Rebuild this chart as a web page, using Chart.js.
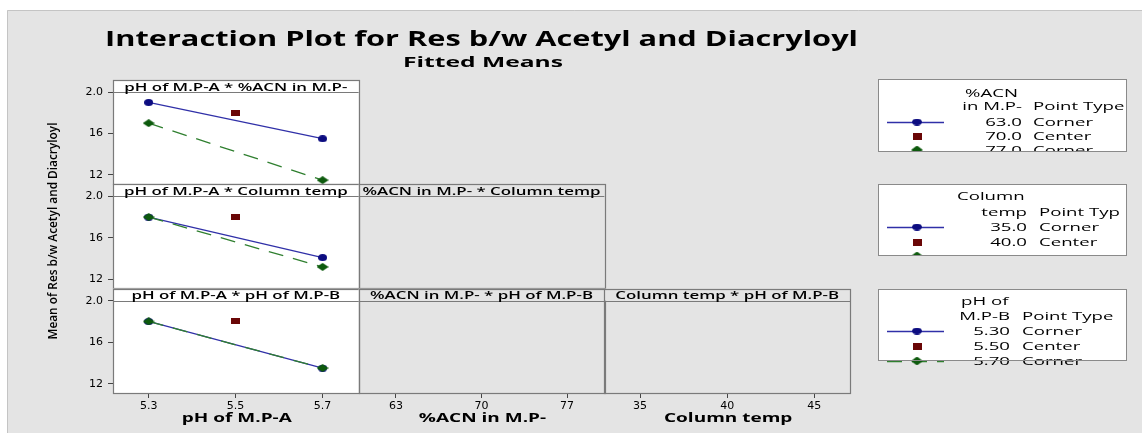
<!DOCTYPE html>
<html>
<head>
<meta charset="utf-8">
<script src="https://cdn.jsdelivr.net/npm/chart.js@4.4.0/dist/chart.umd.min.js"></script>
<style>
  html, body { margin: 0; padding: 0; background: #fff; overflow: hidden; }
  canvas { display: block; }
</style>
</head>
<body>
<canvas id="plot" width="1142" height="433"></canvas>
<script>
// ---- factor levels and tick labels ----
const phA = [5.3, 5.5, 5.7];
const acnLevels = [63, 70, 77];
const tempLevels = [35, 40, 45];
const yTicks = [1.2, 1.6, 2.0];
const yTickLabels = ['12', '16', '2.0'];
const phATickLabels = ['5.3', '5.5', '5.7'];
const acnTickLabels = ['63', '70', '77'];
const tempTickLabels = ['35', '40', '45'];

// ---- fitted means (corner points at pH 5.3 / 5.7, center at 5.5) ----
// pH of M.P-A * %ACN in M.P-
const acnLow = [1.90, 1.55];
const acnCenter = [1.80];
const acnHigh = [1.70, 1.15];
// pH of M.P-A * Column temp
const tempLow = [1.80, 1.41];
const tempCenter = [1.80];
const tempHigh = [1.80, 1.32];
// pH of M.P-A * pH of M.P-B
const phBLow = [1.80, 1.35];
const phBCenter = [1.80];
const phBHigh = [1.80, 1.35];

// ---- texts ----
const chartTitle = 'Interaction Plot for Res b/w Acetyl and Diacryloyl';
const chartSubtitle = 'Fitted Means';
const yAxisTitle = 'Mean of Res b/w Acetyl and Diacryloyl';
const xAxisTitles = ['pH of M.P-A', '%ACN in M.P-', 'Column temp'];
const panelTitles = [
  'pH of M.P-A * %ACN in M.P-',
  'pH of M.P-A * Column temp',
  '%ACN in M.P- * Column temp',
  'pH of M.P-A * pH of M.P-B',
  '%ACN in M.P- * pH of M.P-B',
  'Column temp * pH of M.P-B'
];
const legendHeads = [['%ACN', 'in M.P-'], ['Column', 'temp'], ['pH of', 'M.P-B']];
const legendTypeHeads = ['Point Type', 'Point Typ', 'Point Type'];
const legendLevels = [['63.0', '70.0', '77.0'], ['35.0', '40.0', '45.0'], ['5.30', '5.50', '5.70']];
const pointTypes = ['Corner', 'Center', 'Corner'];

// ---- styling ----
const W = 1142, H = 433;
const BG = '#e4e4e4';
const FRAME = '#c4c4c4';
const PANEL_LINE = '#7a7a7a';
const BLUE_LINE = '#3030a8';
const BLUE_MARK = '#0c0c80';
const RED_MARK = '#6a0606';
const GREEN_LINE = '#2f7f2f';
const GREEN_MARK = '#0d5a0d';
const FONT = '"Open Sans", "DejaVu Sans", sans-serif';
const Y_MIN = 1.11, Y_MAX = 2.116;

function makeMarker(kind, w, h, color) {
  const c = document.createElement('canvas');
  c.width = w; c.height = h;
  const g = c.getContext('2d');
  g.fillStyle = color;
  g.beginPath();
  if (kind === 'circle') g.ellipse(w / 2, h / 2, w / 2, h / 2, 0, 0, Math.PI * 2);
  else if (kind === 'square') g.rect(0, 0, w, h);
  else { g.moveTo(w / 2, 0); g.lineTo(w, h / 2); g.lineTo(w / 2, h); g.lineTo(0, h / 2); g.closePath(); }
  g.fill();
  return c;
}
const circleMark = makeMarker('circle', 9, 7, BLUE_MARK);
const squareMark = makeMarker('square', 9, 6, RED_MARK);
const diamondMark = makeMarker('diamond', 12, 8, GREEN_MARK);
const legendCircle = makeMarker('circle', 10, 7, BLUE_MARK);
const legendSquare = makeMarker('square', 9, 7, RED_MARK);
const legendDiamond = makeMarker('diamond', 12, 9, GREEN_MARK);

const cornerX = [phA[0], phA[2]];
const centerX = [phA[1]];
const pts = (xs, ys) => xs.map((x, i) => ({ x, y: ys[i] }));

const lowStyle = { borderColor: BLUE_LINE, borderWidth: 1.3, pointStyle: circleMark, showLine: true };
const centerStyle = { pointStyle: squareMark, showLine: false };
const highStyle = { borderColor: GREEN_LINE, borderWidth: 1.3, borderDash: [15, 10], pointStyle: diamondMark, showLine: true };

// the first dataset of each panel is painted on top
function panelSets(yId, low, center, high) {
  return [
    Object.assign({ data: pts(cornerX, high), xAxisID: 'xA', yAxisID: yId }, highStyle),
    Object.assign({ data: pts(centerX, center), xAxisID: 'xA', yAxisID: yId }, centerStyle),
    Object.assign({ data: pts(cornerX, low), xAxisID: 'xA', yAxisID: yId }, lowStyle)
  ];
}

const tickFont = { family: '"DejaVu Sans", sans-serif', size: 11 };

function yAxis(weight) {
  return {
    type: 'linear', position: 'left', stack: 'rows', stackWeight: 1, weight,
    min: Y_MIN, max: Y_MAX,
    afterBuildTicks: s => { s.ticks = yTicks.map(v => ({ value: v })); },
    afterFit: s => { s.width = 30; },
    grid: { drawOnChartArea: false, drawTicks: true, tickLength: 5, color: '#444' },
    border: { display: false },
    ticks: { callback: (v, i) => yTickLabels[i], font: tickFont, color: '#000', padding: 5 }
  };
}
function xAxis(weight, levels, labels, min, max) {
  return {
    type: 'linear', position: 'bottom', stack: 'cols', stackWeight: 1, weight,
    min, max,
    afterBuildTicks: s => { s.ticks = levels.map(v => ({ value: v })); },
    afterFit: s => { s.height = 30; },
    grid: { drawOnChartArea: false, drawTicks: true, tickLength: 5, color: '#444' },
    border: { display: false },
    ticks: { callback: (v, i) => labels[i], font: tickFont, color: '#000', padding: 2, maxRotation: 0 }
  };
}

function textFit(ctx, str, x, y, font, opt) {
  ctx.save();
  ctx.font = font;
  const w = ctx.measureText(str).width;
  const sx = opt.width ? opt.width / w : (opt.sx || 1);
  const dw = w * sx;
  let left = x;
  if (opt.align === 'center') left = x - dw / 2;
  else if (opt.align === 'right') left = x - dw;
  ctx.translate(left, y);
  ctx.scale(sx, 1);
  ctx.textAlign = 'left';
  ctx.textBaseline = 'alphabetic';
  ctx.fillStyle = opt.color || '#000';
  ctx.fillText(str, 0, 0);
  ctx.restore();
}
function stretchFor(ctx, font, str, width) {
  ctx.save(); ctx.font = font; const w = ctx.measureText(str).width; ctx.restore();
  return width / w;
}

const CELLS = [[0, 0], [1, 0], [1, 1], [2, 0], [2, 1], [2, 2]];
const ROW_IDS = ['y1', 'y2', 'y3'];
const COL_IDS = ['xA', 'xB', 'xC'];

function cellRect(chart, r, c) {
  const ys = chart.scales[ROW_IDS[r]], xs = chart.scales[COL_IDS[c]];
  return { l: xs.left, r: xs.right, t: ys.top, b: ys.bottom, head: ys.getPixelForValue(2.0) };
}

const decor = {
  id: 'decor',
  beforeDraw(chart) {
    const ctx = chart.ctx;
    ctx.save();
    ctx.fillStyle = '#fff';
    ctx.fillRect(0, 0, W, H);
    ctx.fillStyle = BG;
    ctx.fillRect(7, 10, W - 7, H - 10);
    ctx.strokeStyle = FRAME;
    ctx.lineWidth = 1;
    ctx.beginPath();
    ctx.moveTo(7.5, H); ctx.lineTo(7.5, 10.5); ctx.lineTo(W, 10.5);
    ctx.stroke();
    // white plotting areas of the first column
    ctx.fillStyle = '#fff';
    CELLS.filter(([r, c]) => c === 0).forEach(([r, c]) => {
      const p = cellRect(chart, r, c);
      ctx.fillRect(p.l, p.t, p.r - p.l, p.b - p.t);
    });
    ctx.restore();
  },
  afterDatasetsDraw(chart) {
    const ctx = chart.ctx;
    ctx.save();
    const hFont = '600 11px ' + FONT;
    const hsx = stretchFor(ctx, hFont, panelTitles[0], 223);
    CELLS.forEach(([r, c], i) => {
      const p = cellRect(chart, r, c);
      ctx.fillStyle = c === 0 ? '#fff' : BG;
      ctx.fillRect(p.l, p.t, p.r - p.l, p.head - p.t);
      ctx.strokeStyle = PANEL_LINE;
      ctx.lineWidth = 1.2;
      ctx.strokeRect(Math.round(p.l) + 0.5, Math.round(p.t) + 0.5, Math.round(p.r - p.l), Math.round(p.b - p.t));
      ctx.beginPath();
      ctx.moveTo(p.l, Math.round(p.head) + 0.5);
      ctx.lineTo(p.r, Math.round(p.head) + 0.5);
      ctx.stroke();
      textFit(ctx, panelTitles[i], (p.l + p.r) / 2, p.head - 1.5, hFont, { sx: hsx, align: 'center' });
    });
    ctx.restore();
  },
  afterDraw(chart) {
    const ctx = chart.ctx;
    ctx.save();
    // titles
    textFit(ctx, chartTitle, 481.5, 46, 'bold 21px ' + FONT, { width: 753, align: 'center' });
    textFit(ctx, chartSubtitle, 483, 67, 'bold 15px ' + FONT, { width: 160, align: 'center' });
    // y axis title, squeezed along its length
    ctx.save();
    ctx.translate(57, 231);
    ctx.rotate(-Math.PI / 2);
    textFit(ctx, yAxisTitle, 0, 0, '600 12px ' + FONT, { width: 217, align: 'center' });
    ctx.restore();
    // x axis titles
    const xFont = 'bold 13px ' + FONT;
    const xsx = stretchFor(ctx, xFont, xAxisTitles[0], 110);
    COL_IDS.forEach((id, i) => {
      const s = chart.scales[id];
      textFit(ctx, xAxisTitles[i], (s.left + s.right) / 2 + 1, 422, xFont, { sx: xsx, align: 'center' });
    });
    // legends (third entry runs past the box edge and is cut off)
    const lFont = '500 10.5px ' + FONT;
    const lsx = stretchFor(ctx, lFont, 'Corner', 60);
    const boxes = [
      { t: 79, b: 151, head1: 965, right: 1022, left: 1033, y0: 93, extra: 1, lastLine: false, lastShift: 0 },
      { t: 184, b: 255, head1: 957, right: 1027, left: 1039, y0: 196, extra: 0, lastLine: false, lastShift: 5 },
      { t: 289, b: 360, head1: 961, right: 1010, left: 1022, y0: 301, extra: 5, lastLine: true, lastShift: 0 }
    ];
    const rowsY = [[122, 136, 150], [227, 242, 256], [331, 346, 361]];
    const headY2 = [106, 212, 316];
    const marks = [legendCircle, legendSquare, legendDiamond];
    boxes.forEach((bx, k) => {
      ctx.fillStyle = '#fff';
      ctx.fillRect(878, bx.t, 248, bx.b - bx.t);
      ctx.save();
      ctx.beginPath();
      ctx.rect(870, bx.t, 272, bx.b - bx.t + bx.extra);
      ctx.clip();
      textFit(ctx, legendHeads[k][0], bx.head1, bx.y0 + 4, lFont, { sx: lsx });
      textFit(ctx, legendHeads[k][1], bx.right, headY2[k] + 4, lFont, { sx: lsx, align: 'right' });
      textFit(ctx, legendTypeHeads[k], bx.left, headY2[k] + 4, lFont, { sx: lsx });
      rowsY[k].forEach((y, j) => {
        if (j === 0 || (j === 2 && bx.lastLine)) {
          ctx.strokeStyle = j === 0 ? BLUE_LINE : GREEN_LINE;
          ctx.lineWidth = 1.3;
          ctx.setLineDash(j === 0 ? [] : [15, 10]);
          ctx.beginPath();
          ctx.moveTo(887, y + 0.5); ctx.lineTo(944, y + 0.5);
          ctx.stroke();
          ctx.setLineDash([]);
        }
        const m = marks[j];
        ctx.drawImage(m, 917 - m.width / 2, y - m.height / 2);
        const ty = y + 4 + (j === 2 ? bx.lastShift : 0);
        textFit(ctx, legendLevels[k][j], bx.right, ty, lFont, { sx: lsx, align: 'right' });
        textFit(ctx, pointTypes[j], bx.left, ty, lFont, { sx: lsx });
      });
      ctx.restore();
      ctx.strokeStyle = '#8a8a8a';
      ctx.lineWidth = 1;
      ctx.strokeRect(878.5, bx.t + 0.5, 248, bx.b - bx.t);
    });
    ctx.restore();
  }
};

new Chart(document.getElementById('plot'), {
  type: 'scatter',
  data: {
    datasets: [
      ...panelSets('y1', acnLow, acnCenter, acnHigh),
      ...panelSets('y2', tempLow, tempCenter, tempHigh),
      ...panelSets('y3', phBLow, phBCenter, phBHigh)
    ]
  },
  options: {
    responsive: false,
    animation: false,
    devicePixelRatio: 1,
    layout: { padding: { left: 83, top: 80, right: 292, bottom: 10 } },
    elements: { point: { radius: 5, hoverRadius: 5 }, line: { tension: 0 } },
    plugins: { legend: { display: false }, tooltip: { enabled: false }, title: { display: false } },
    scales: {
      y1: yAxis(3),
      y2: yAxis(2),
      y3: yAxis(1),
      xA: xAxis(1, phA, phATickLabels, 5.218, 5.783),
      xB: xAxis(2, acnLevels, acnTickLabels, 59.95, 80.05),
      xC: xAxis(3, tempLevels, tempTickLabels, 32.95, 47.05)
    }
  },
  plugins: [decor]
});
</script>
</body>
</html>
